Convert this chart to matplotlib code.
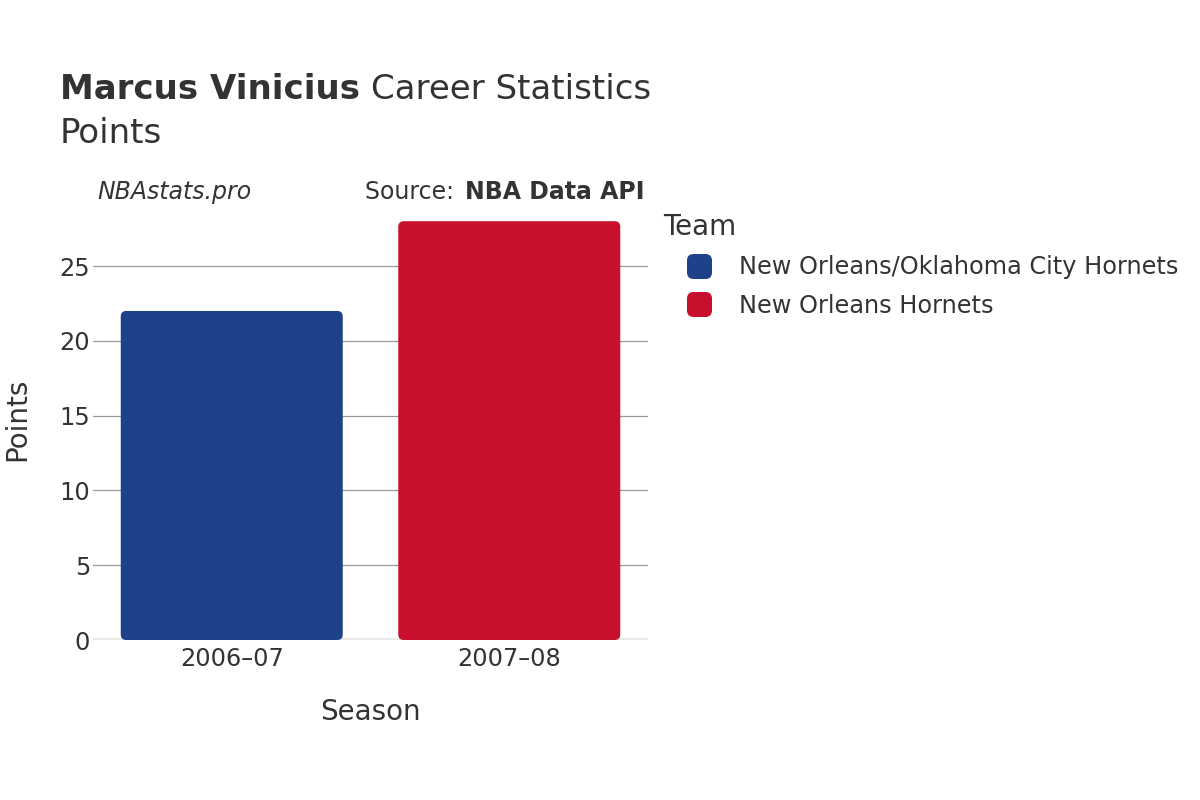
import matplotlib.pyplot as plt
from matplotlib.patches import FancyBboxPatch, BoxStyle
from matplotlib.lines import Line2D

plt.rcParams['font.family'] = ['DejaVu Sans']

# data
seasons = ['2006\u201307', '2007\u201308']
points = [22, 28]
teams = ['New Orleans/Oklahoma City Hornets', 'New Orleans Hornets']
colors = ['#1D4289', '#C8102E']

txt = '#333333'
fig = plt.figure(figsize=(12, 8), dpi=100)
ax = fig.add_axes([0.0775, 0.2, 0.4625, 0.551])

x = list(range(len(seasons)))
bars = ax.bar(x, points, width=0.8, color=colors)
ax.set_xlim(-0.5, len(seasons) - 0.5)
ax.set_ylim(0, 29.47)

# swap plain bars for rounded ones
aspect = (29.47 / 441.0) / (2.0 / 555.0)
for b in bars:
    bx, by = b.get_x(), b.get_y()
    bw, bh = b.get_width(), b.get_height()
    fc = b.get_facecolor()
    b.remove()
    ax.add_patch(FancyBboxPatch((bx, by), bw, bh,
                                boxstyle='round,pad=0,rounding_size=0.02',
                                mutation_aspect=aspect, fc=fc, ec='none', zorder=2))

ax.set_yticks([0, 5, 10, 15, 20, 25])
ax.set_xticks(x)
ax.set_xticklabels(seasons)
ax.tick_params(axis='both', length=0, labelsize=17.3, colors=txt)
ax.tick_params(axis='y', pad=2)
ax.tick_params(axis='x', pad=5)
for s in ax.spines.values():
    s.set_visible(False)
ax.grid(axis='y', color='#999999', linewidth=0.9, zorder=0)
ax.set_axisbelow(True)
ax.axhline(0, color='#e8e8e8', linewidth=3, zorder=1)

ax.set_xlabel('Season', fontsize=20, color=txt, va='center')
ax.set_ylabel('Points', fontsize=20, color=txt, va='center')
ax.xaxis.set_label_coords(0.5, -0.163)
ax.yaxis.set_label_coords(-0.137, 0.5)

# title: bold name + normal remainder
t1 = fig.text(0.05, 0.8765, 'Marcus Vinicius', fontsize=24.5, fontweight='bold',
              color=txt, va='baseline')
fig.canvas.draw()
r = fig.canvas.get_renderer()
bb = t1.get_window_extent(renderer=r)
fig.text(bb.x1 / 1200 + 0.009, 0.8765, 'Career Statistics', fontsize=24.5,
         color=txt, va='baseline')
fig.text(0.05, 0.8215, 'Points', fontsize=24.5, color=txt, va='baseline')

fig.text(0.081, 0.751, 'NBAstats.pro', fontsize=17, style='italic',
         color=txt, va='baseline')
src_lbl = fig.text(0.537, 0.751, 'Source: ', fontsize=17, color=txt,
                   va='baseline', ha='right')
src = fig.text(0.537, 0.751, 'NBA Data API', fontsize=17, fontweight='bold',
               color=txt, va='baseline', ha='right')
fig.canvas.draw()
sb = src.get_window_extent(renderer=fig.canvas.get_renderer())
src_lbl.set_x(sb.x0 / 1200 - 0.003)

# rounded square legend markers
rsq = BoxStyle.Round(pad=0, rounding_size=0.25)(-0.5, -0.5, 1, 1, 1)
handles = [Line2D([], [], marker=rsq, linestyle='none', markersize=17,
                  markerfacecolor=c, markeredgecolor=c) for c in colors]
leg = fig.legend(handles, teams, loc='upper left', bbox_to_anchor=(0.5525, 0.734),
                 frameon=False, title='Team', fontsize=17.3, title_fontsize=20,
                 alignment='left', handlelength=3.0, handletextpad=0.17,
                 labelspacing=0.6, borderaxespad=0, borderpad=0)
for t in leg.get_texts():
    t.set_color(txt)
leg.get_title().set_color(txt)

fig.savefig('out.png', dpi=100)
